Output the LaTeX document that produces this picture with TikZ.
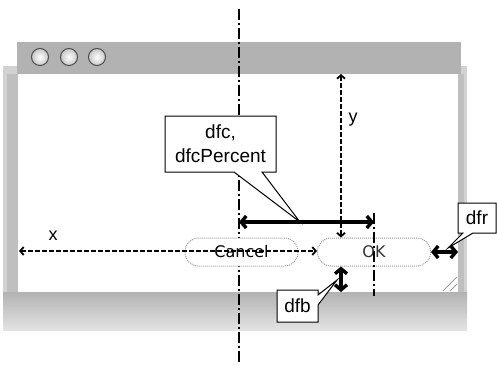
\documentclass[tikz,border=0pt]{standalone}
\usepackage{fontspec}
\setmainfont{Liberation Sans}
\newfontfamily\btnfont{DejaVu Sans}
\usetikzlibrary{arrows.meta,shapes.callouts}
\begin{document}
\begin{tikzpicture}[x=1pt,y=-1pt,
  thickarr/.style={line width=3.4pt,{Straight Barb[length=5pt,width=12pt]}-{Straight Barb[length=5pt,width=12pt]}},
  dasharr/.style={line width=1.8pt,dash pattern=on 5pt off 2pt,{Straight Barb[length=3.5pt,width=8pt]}-{Straight Barb[length=3.5pt,width=8pt]}},
  dashdot/.style={line width=1.4pt,dash pattern=on 11pt off 3pt on 2pt off 3pt},
  winbtn/.style={circle,minimum size=17pt,inner sep=0pt,draw=black!70,line width=1pt,inner color=white,outer color=gray!45},
  pill/.style={rectangle,rounded corners=13.5pt,minimum width=113pt,minimum height=28pt,draw=gray!80,densely dotted,line width=1pt,fill=white,font=\btnfont\fontsize{16pt}{18pt}\selectfont},
  callbox/.style={rectangle callout,draw,fill=white,line width=1pt,font=\fontsize{19pt}{24pt}\selectfont,align=center,inner sep=2pt},
  lbl/.style={font=\fontsize{18pt}{20pt}\selectfont,inner sep=0pt}]
\useasboundingbox (0,0) rectangle (497,365);
% window frame
\fill[gray!35] (3,66) rectangle (467,326);
\shade[top color=gray!60,bottom color=gray!22] (3,292) rectangle (467,330);
\fill[gray!60] (17,42) rectangle (461,74);
\fill[gray!50] (458,74) rectangle (464,292);
\fill[gray!50] (7,74) rectangle (18,292);
\fill[white] (18,74) rectangle (458,292);
\draw[gray!75,line width=0.9pt] (443,291) -- (457,277) (450,291) -- (457,284);
\node[winbtn] (b1) at (40,57) {};
\node[winbtn] (b2) at (69,57) {};
\node[winbtn] (b3) at (97,57) {};
% left guide line
\coordinate (gtop) at (239,9);
\coordinate (gbot) at (239,365);
\draw[dashdot] (gtop) -- (gbot);
% buttons
\node[pill,text=black] (cancel) at (241.5,252) {Cancel};
\node[pill,text=black!80] (ok) at (374,252) {OK};
% right guide line
\coordinate (rtop) at (374,213);
\coordinate (rbot) at (374,296);
\draw[dashdot] (rtop) -- (rbot);
% x arrow
\coordinate (xl) at (19,251);
\draw[dasharr] (xl) -- (xl -| ok.west);
\node[lbl] (xlab) at (53,236) {x};
% y arrow
\coordinate (yt) at (341,74);
\draw[dasharr] (yt) -- (yt |- ok.north);
\node[lbl] (ylab) at (353,120) {y};
% dfc arrow
\coordinate (cl) at (239,222);
\coordinate (cr) at (374,222);
\coordinate (ctip) at (300,222);
\draw[thickarr] (cl) -- (cr);
% dfr arrow
\coordinate (rr) at (458,252);
\draw[thickarr] (ok.east) -- (rr);
% dfb arrow
\coordinate (bb) at (341,292);
\draw[thickarr] (bb |- ok.south) -- (bb);
% callouts
\node[callbox,minimum width=111pt,minimum height=56pt,callout absolute pointer={(ctip)},callout pointer width=28pt] (dfc) at (220.5,144) {dfc,\\dfcPercent};
\coordinate (rtip) at (448,248);
\node[callbox,minimum width=38pt,minimum height=30pt,callout absolute pointer={(rtip)},callout pointer width=10pt] (dfr) at (477,218) {dfr};
\coordinate (btip) at (337,280);
\node[callbox,minimum width=41pt,minimum height=32pt,callout absolute pointer={(btip)},callout pointer width=10pt] (dfb) at (297.5,306) {dfb};
\end{tikzpicture}
\end{document}
